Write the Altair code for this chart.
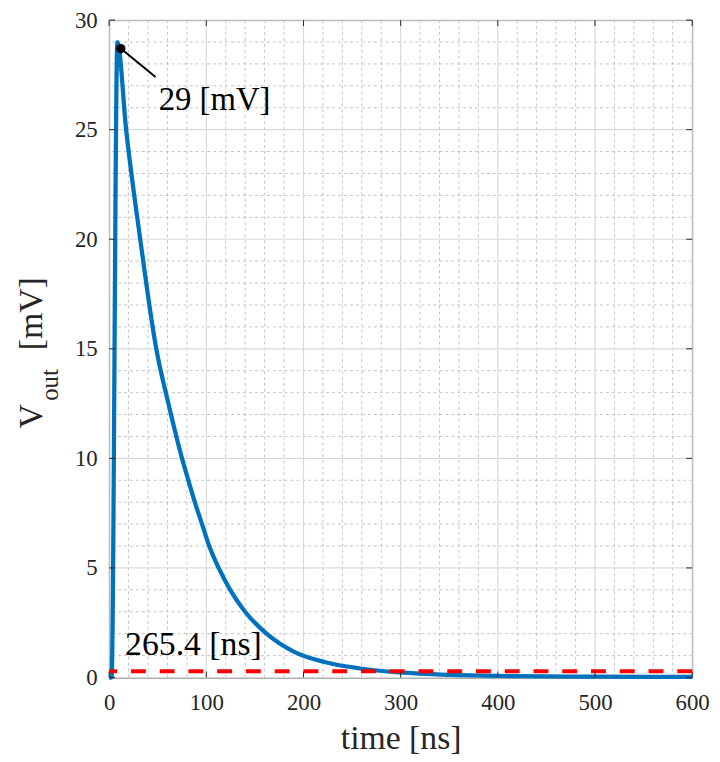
import altair as alt
import pandas as pd

# ---- data ----
time_ns = [0, 2.5, 8.5, 17.5, 32, 48.5, 61, 75, 81.5, 88.2, 95.6, 103, 112.7, 124.6,
           139.9, 162, 190.9, 221.5, 258.5, 299, 350, 400, 450, 500, 600]
vout_mv = [0, 0, 29.0, 25, 20, 15, 12.5, 10, 9, 8, 7, 6, 5, 4,
           3, 2, 1.16, 0.71, 0.41, 0.23, 0.12, 0.07, 0.05, 0.04, 0.03]

x_major = [0, 100, 200, 300, 400, 500, 600]
y_major = [0, 5, 10, 15, 20, 25, 30]
x_minor = [20, 40, 60, 80, 120, 140, 160, 180, 220, 240, 260, 280, 320, 340, 360, 380,
           420, 440, 460, 480, 520, 540, 560, 580]
y_minor = [1, 2, 3, 4, 6, 7, 8, 9, 11, 12, 13, 14, 16, 17, 18, 19, 21, 22, 23, 24,
           26, 27, 28, 29]

threshold_mv = [0.29]
peak_t = [12]
peak_v = [28.7]
leader_t = [12, 47.7]
leader_v = [28.7, 27.4]
peak_label = ["29 [mV]"]
peak_label_pos = [51, 25.9]
time_label = ["265.4 [ns]"]
time_label_pos = [16.4, 1.04]

W, H = 588, 663
FONT = "Liberation Serif"
TXT = "#262626"

xs = alt.Scale(domain=[0, 600], nice=False, zero=False)
ys = alt.Scale(domain=[0, 30], nice=False, zero=False)

AX_X = alt.Axis(
    values=x_major, format="d", title="time [ns]", grid=False, ticks=False,
    tickSize=0, domain=False, labelFont=FONT, labelFontSize=23, labelColor=TXT,
    labelPadding=14, labelFlush=False, labelOverlap=False,
    titleFont=FONT, titleFontSize=34, titleFontWeight="normal", titleColor=TXT,
    titleY=72, titleBaseline="alphabetic")
AX_Y = alt.Axis(
    values=y_major, format="d", title=None, grid=False, ticks=False,
    tickSize=0, domain=False, labelFont=FONT, labelFontSize=23, labelColor=TXT,
    labelPadding=12, labelFlush=False, labelOverlap=False)

X = alt.X("t:Q", scale=xs, axis=AX_X)
Y = alt.Y("v:Q", scale=ys, axis=AX_Y)

def df(**cols):
    return pd.DataFrame(cols)

# grids
minor_style = dict(color="#b5b5b5", strokeWidth=1, strokeDash=[3, 3], opacity=0.8)
major_style = dict(color="#d9d9d9", strokeWidth=1.2)
gx_minor = alt.Chart(df(t=x_minor)).mark_rule(**minor_style).encode(x=X)
gy_minor = alt.Chart(df(v=y_minor)).mark_rule(**minor_style).encode(y=Y)
gx_major = alt.Chart(df(t=x_major)).mark_rule(**major_style).encode(x=X)
gy_major = alt.Chart(df(v=y_major)).mark_rule(**major_style).encode(y=Y)

# inward ticks on all four sides
tick_style = dict(color=TXT, strokeWidth=1)
t_bottom = alt.Chart(df(t=x_major)).mark_rule(**tick_style).encode(
    x=X, y=alt.value(H), y2=alt.value(H - 6))
t_top = alt.Chart(df(t=x_major)).mark_rule(**tick_style).encode(
    x=X, y=alt.value(0), y2=alt.value(6))
t_left = alt.Chart(df(v=y_major)).mark_rule(**tick_style).encode(
    y=Y, x=alt.value(0), x2=alt.value(6))
t_right = alt.Chart(df(v=y_major)).mark_rule(**tick_style).encode(
    y=Y, x=alt.value(W), x2=alt.value(W - 6))

curve = alt.Chart(df(t=time_ns, v=vout_mv)).mark_line(
    color="#0072BD", strokeWidth=4.3, interpolate="monotone"
).encode(x=X, y=Y)

thresh = alt.Chart(df(v=threshold_mv)).mark_rule(
    color="#ff0000", strokeWidth=4, strokeDash=[15, 14]
).encode(y=Y)

leader = alt.Chart(df(t=leader_t, v=leader_v)).mark_line(
    color="black", strokeWidth=2
).encode(x=X, y=Y)

marker = alt.Chart(df(t=peak_t, v=peak_v)).mark_point(
    filled=True, color="black", size=90, opacity=1
).encode(x=X, y=Y)

peak_txt = alt.Chart(df(t=[peak_label_pos[0]], v=[peak_label_pos[1]], s=peak_label)).mark_text(
    font=FONT, fontSize=33, color="black", align="left", baseline="alphabetic"
).encode(x=X, y=Y, text="s:N")

time_txt = alt.Chart(df(t=[time_label_pos[0]], v=[time_label_pos[1]], s=time_label)).mark_text(
    font=FONT, fontSize=34, color="black", align="left", baseline="alphabetic"
).encode(x=X, y=Y, text="s:N")

# y-axis title with subscript
def ytitle(s, size, px, py):
    return alt.Chart(df(s=[s])).mark_text(
        font=FONT, fontSize=size, color=TXT, angle=270, align="left",
        baseline="alphabetic"
    ).encode(x=alt.value(px), y=alt.value(py), text="s:N")

yt_v = ytitle("V", 34, -68, 412)
yt_out = ytitle("out", 25, -52, 384)
yt_unit = ytitle("[mV]", 34, -68, 333)

chart = alt.layer(
    gx_minor, gy_minor, gx_major, gy_major,
    curve, thresh, leader, marker, peak_txt, time_txt,
    t_bottom, t_top, t_left, t_right,
    yt_v, yt_out, yt_unit,
).properties(
    width=W, height=H,
    autosize=alt.AutoSizeParams(type="none"),
    padding={"left": 102, "top": 9, "right": 20, "bottom": 80},
    background="white",
).configure_view(stroke="#555555", strokeWidth=1)

chart.save("out.html", embed_options={"renderer": "svg", "actions": False})
